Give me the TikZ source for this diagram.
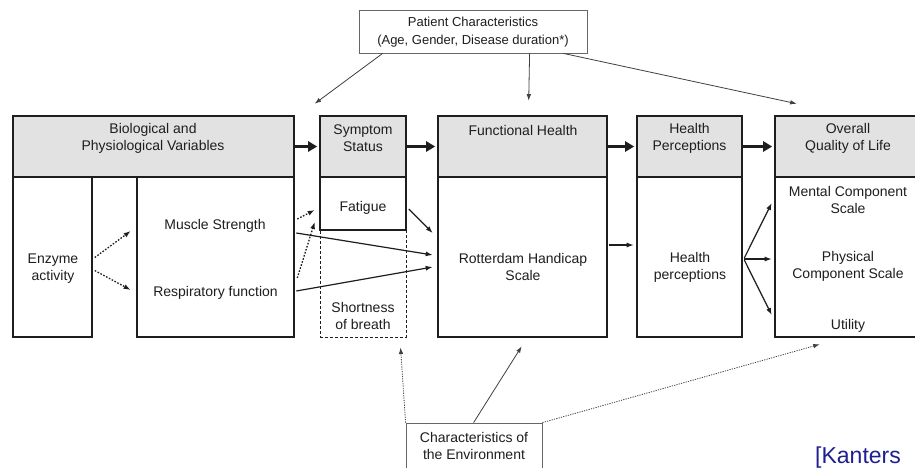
\documentclass[tikz,border=0pt]{standalone}
\usepackage{fontspec}
\setmainfont{Liberation Sans}
\usetikzlibrary{arrows.meta,calc}
\definecolor{hdr}{HTML}{E2E2E2}
\definecolor{ink}{HTML}{1E1E1E}
\definecolor{frame}{HTML}{666666}
\definecolor{navy}{HTML}{1F1F8F}

\begin{document}
\begin{tikzpicture}[x=1pt,y=-1pt,
  % main model boxes
  hbox/.style={draw=ink,fill=hdr,line width=2.6pt,inner sep=0pt,rectangle},
  bbox/.style={draw=ink,fill=white,line width=2.6pt,inner sep=0pt,rectangle},
  dbox/.style={draw=ink,line width=0.9pt,dash pattern=on 3pt off 2pt,inner sep=0pt,rectangle},
  cbox/.style={draw=frame,fill=white,line width=0.8pt,inner sep=0pt,rectangle},
  % labels
  txt/.style={align=center,inner sep=0pt,text=ink,font=\fontsize{14}{17}\selectfont},
  stxt/.style={align=center,inner sep=0pt,text=ink,font=\fontsize{13}{18}\selectfont},
  % connectors
  big/.style={draw=ink,line width=2.8pt,-{Triangle[length=9pt,width=10pt]},shorten >=1.5pt},
  conn/.style={draw=ink,line width=1.2pt,-{Latex[length=7pt,width=5pt]}},
  dconn/.style={conn,line width=1.3pt,dash pattern=on 1.6pt off 1.6pt},
  tconn/.style={draw=ink!85,line width=0.8pt,-{Latex[length=6.5pt,width=4.5pt]}},
  tdconn/.style={tconn,dash pattern=on 1.2pt off 1.2pt}]

\useasboundingbox (0,0) rectangle (915,467);
\clip (0,0) rectangle (915,467);
\fill[white] (0,0) rectangle (915,467);

% ---- boxes -------------------------------------------------------
\node[hbox,minimum width=281,minimum height=61] (bioh) at (153.5,146.5) {};
\node[bbox,minimum width=79,minimum height=160] (enz) at (52.5,257) {};
\node[bbox,minimum width=157,minimum height=160] (msc) at (215.5,257) {};

\node[hbox,minimum width=86,minimum height=61] (symh) at (363,146.5) {};
\node[dbox,minimum width=86,minimum height=107] (sob) at (363,283.5) {};
\node[bbox,minimum width=86,minimum height=53] (fat) at (363,203.5) {};

\node[hbox,minimum width=169,minimum height=61] (funh) at (522.5,146.5) {};
\node[bbox,minimum width=169,minimum height=160] (fun) at (522.5,257) {};

\node[hbox,minimum width=105,minimum height=61] (hph) at (689.5,146.5) {};
\node[bbox,minimum width=105,minimum height=160] (hp) at (689.5,257) {};

\node[hbox,minimum width=150,minimum height=61] (qolh) at (850,146.5) {};
\node[bbox,minimum width=150,minimum height=160] (qol) at (850,257) {};

\node[cbox,minimum width=228,minimum height=43] (pat) at (473,31.5) {};
\node[cbox,minimum width=136,minimum height=67] (env) at (474,456.5) {};

% ---- labels ------------------------------------------------------
\node[txt] (tbio) at (153,138.5) {Biological and\\Physiological Variables};
\node[txt] (tsym) at (363,138.5) {Symptom\\Status};
\node[txt] (tfun) at (523,130) {Functional Health};
\node[txt] (thph) at (689.5,138.5) {Health\\Perceptions};
\node[txt] (tqol) at (848,138.5) {Overall\\Quality of Life};

\node[txt] (tenz) at (53,268.5) {Enzyme\\activity};
\node[txt] (tmsc) at (215,226) {Muscle Strength};
\node[txt] (tres) at (215.5,292.5) {Respiratory function};
\node[txt] (tfat) at (363,208) {Fatigue};
\node[txt] (tsob) at (363,316) {Shortness\\of breath};
\node[txt] (trhs) at (523,266.5) {Rotterdam Handicap\\Scale};
\node[txt] (thp) at (690,267.5) {Health\\perceptions};
\node[txt] (tmcs) at (848,200) {Mental Component\\Scale};
\node[txt] (tpcs) at (848,266) {Physical\\Component Scale};
\node[txt] (tut) at (848,326) {Utility};

\node[stxt] (tpat) at (473,32) {Patient Characteristics\\(Age, Gender, Disease duration*)};
\node[txt] (tenv) at (474,445.5) {Characteristics of\\the Environment};

\node[anchor=base west,inner sep=0pt,text=navy,font=\fontsize{23}{26}\selectfont] (ref) at (815,463) {[Kanters};

% ---- connectors between the model stages ---------------------------
\draw[big] (bioh.east) -- (symh.west);
\draw[big] (symh.east) -- (funh.west);
\draw[big] (funh.east) -- (hph.west);
\draw[big] (hph.east) -- (qolh.west);

% biological variables
\draw[dconn] ($(enz.east)+(1.5,0.5)$) -- ($(msc.west)+(-5,-26)$);
\draw[dconn] ($(enz.east)+(1.5,13.5)$) -- ($(msc.west)+(-5,33)$);
\draw[dconn] ($(msc.east)+(2,-38)$) -- ($(fat.west)+(-4,6.5)$);
\draw[dconn] ($(msc.east)+(2,21)$) -- ($(fat.west)+(-4,18.5)$);
\draw[conn] ($(msc.east)+(1,-24)$) -- ($(fun.west)+(-4,-2)$);
\draw[conn] ($(msc.east)+(1,34)$) -- ($(fun.west)+(-4,10)$);
\draw[conn] ($(fat.east)+(1.5,5.5)$) -- ($(fun.west)+(-4,-24)$);

% functional health -> perceptions -> quality of life
\draw[conn] ($(fun.east)+(1,-12)$) -- ($(hp.west)+(-2,-12)$);
\draw[conn] ($(hp.east)+(1,1)$) -- ($(qol.west)+(-2,-54)$);
\draw[conn] ($(hp.east)+(1,2)$) -- ($(qol.west)+(-2,2)$);
\draw[conn] ($(hp.east)+(1,3)$) -- ($(qol.west)+(-2,58)$);

% patient characteristics
\draw[tconn] ($(pat.south west)+(24,0)$) -- ($(symh.north west)+(-4,-11)$);
\draw[tconn] ($(pat.south west)+(171,0)$) -- ($(funh.north west)+(92,-14)$);
\draw[tconn] ($(pat.south east)+(-24,0)$) -- ($(qolh.north west)+(23,-11)$);

% environment
\draw[tdconn] (env.north west) -- ($(sob.south west)+(81,10)$);
\draw[tconn] ($(env.north west)+(68,0)$) -- ($(fun.south west)+(85,8)$);
\draw[tdconn] (env.north east) -- ($(qol.south west)+(46,6)$);
\end{tikzpicture}
\end{document}
